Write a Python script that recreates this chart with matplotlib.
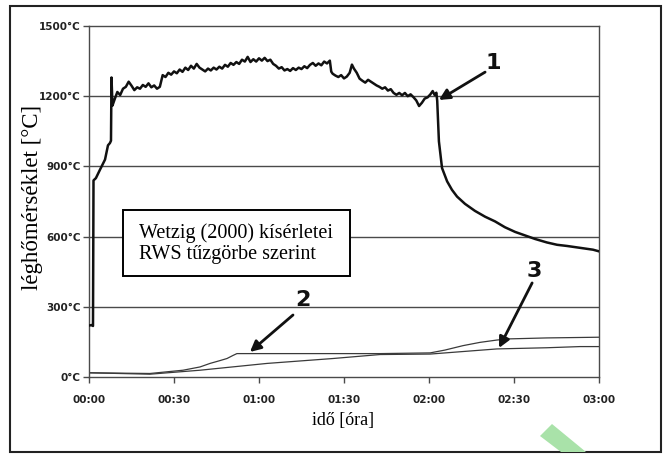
import matplotlib
matplotlib.use("Agg")
import matplotlib.pyplot as plt
from matplotlib.patches import Polygon, Rectangle

# ---------------- data ----------------
# curve 1: gas temperature (minutes, °C)
t1 = [0, 1.06, 1.41, 1.59, 2.44, 3.88, 5.65, 6.7, 7.4, 7.76, 7.94, 8.29,
      9, 10, 11, 12, 13, 14, 15, 16, 17, 18, 19, 20, 21, 22, 23, 24, 25,
      26, 27, 28, 29, 30, 31, 32, 33, 34, 35, 36, 37, 38, 39, 40, 41, 42,
      43, 44, 45, 46, 47, 48, 49, 50, 51, 52, 53, 54, 55, 56, 57, 58, 59,
      60, 61, 62, 63, 64, 65, 66, 67, 68, 69, 70, 71, 72, 73, 74, 75, 76,
      77, 78, 79, 80, 81, 82, 83, 84, 85, 85.5, 86, 87, 88, 89, 90, 91, 92,
      92.8, 93.5, 94.5, 95.5, 96.5, 97.5, 98.5, 99.5, 100.5, 101.5, 102.5,
      103.5, 104.5, 105.5, 106.5, 107.5, 108.5, 109.5, 110.5, 111.5, 112.5,
      113.5, 114.5, 115.5, 116.5, 117.5, 118.5, 119.5, 120.5, 121.3, 122.0,
      122.6, 122.9, 123.5, 124.6, 126.4, 128.1, 129.9, 132.7, 136.2, 139.8,
      143.3, 146.8, 150.4, 153.9, 157.4, 161.6, 165.2, 168.7, 173.3, 177.9, 180]
T1 = [220, 222, 218, 840, 850, 886, 929, 990, 1000, 1010, 1280, 1160,
      1185, 1218, 1205, 1232, 1240, 1262, 1245, 1226, 1238, 1232, 1248, 1240,
      1255, 1238, 1246, 1232, 1240,
      1290, 1282, 1300, 1292, 1306, 1298, 1314, 1304, 1322, 1312, 1330, 1318,
      1338, 1322, 1314, 1306, 1318,
      1310, 1322, 1314, 1326, 1318, 1334, 1326, 1342, 1334, 1346, 1338, 1356,
      1348, 1368, 1346, 1358, 1348,
      1362, 1352, 1364, 1350, 1356, 1338, 1330, 1318, 1324, 1310, 1316, 1308,
      1320, 1312, 1322, 1316, 1328,
      1320, 1334, 1342, 1330, 1340, 1332, 1348, 1340, 1352, 1305, 1296, 1288,
      1282, 1290, 1276, 1284, 1300,
      1335, 1318, 1300, 1275, 1266, 1258, 1270, 1262, 1254, 1246, 1240,
      1232, 1238, 1224, 1230, 1214, 1206, 1214, 1204, 1214, 1200,
      1208, 1196, 1182, 1158, 1172, 1190, 1195, 1208, 1222, 1205,
      1215, 1180, 1007, 893, 836, 800, 771, 740, 710, 685,
      665, 640, 620, 605, 590, 575, 565, 560, 552, 544, 537]

# curve 2
t2 = [0, 21.5, 33.2, 39.2, 42.7, 46.2, 48.7, 50.8, 52.2, 74.5, 102.7, 120.4,
      125.6, 132.0, 138.0, 144.0, 148.6, 161.6, 180]
T2 = [18, 15, 29, 43, 58, 70, 79, 92, 100, 100, 100, 103,
      115, 134, 148, 158, 163, 167, 170]

# curve 3
t3 = [0, 21.5, 39.2, 62.8, 86.1, 102.7, 120.4, 144.0, 161.6, 173.3, 180]
T3 = [18, 12, 29, 58, 79, 96, 98, 120, 125, 130, 130]

x_ticks = [0, 30, 60, 90, 120, 150, 180]
x_labels = ["00:00", "00:30", "01:00", "01:30", "02:00", "02:30", "03:00"]
y_ticks = [0, 300, 600, 900, 1200, 1500]
y_labels = ["0°C", "300°C", "600°C", "900°C", "1200°C", "1500°C"]

# annotation targets (minutes, °C)
ann = [("1", (123.5, 1184), (139.8, 1303), (142.6, 1342)),
       ("2", (56.8, 107), (72.0, 265), (75.5, 329)),
       ("3", (144.7, 124), (156.4, 402), (157.1, 453))]

# ---------------- figure ----------------
W, H = 667, 459
fig = plt.figure(figsize=(W / 100, H / 100), dpi=100)
fig.patch.set_facecolor("white")

ax = fig.add_axes([89 / W, 1 - 377 / H, 510 / W, 351 / H])
ax.set_xlim(0, 180)
ax.set_ylim(0, 1500)

grid_c = "#4a4a4a"
for y in y_ticks[1:-1]:
    ax.axhline(y, color=grid_c, lw=1.0, zorder=1)
for s in ax.spines.values():
    s.set_color(grid_c)
    s.set_linewidth(1.0)

ax.plot(t3, T3, color="#3a3a3a", lw=0.9, zorder=2)
ax.plot(t2, T2, color="#3a3a3a", lw=0.9, zorder=2)
ax.plot(t1, T1, color="#111111", lw=1.8, zorder=3)

tick_font = dict(family=["Liberation Sans Narrow", "DejaVu Sans"], weight="bold", size=7.5)
ax.set_xticks(x_ticks)
ax.set_xticklabels(x_labels, **tick_font)
ax.set_yticks(y_ticks)
ax.set_yticklabels(y_labels, **tick_font)
ax.tick_params(axis="both", direction="out", length=4, width=1.0, color=grid_c,
               labelcolor="#222222")
ax.tick_params(axis="x", pad=9)
ax.tick_params(axis="y", pad=2)

serif = ["Liberation Serif", "DejaVu Serif"]
fig.text(33 / W, 1 - 197 / H, "léghőmérséklet [°C]", rotation=90, ha="center",
         va="center", family=serif, fontsize=16.5)
fig.text(343 / W, 1 - 421 / H, "idő [óra]", ha="center", va="center",
         family=serif, fontsize=13)

# text box
ax.add_patch(Rectangle((0.0667, 0.288), 0.445, 0.188, transform=ax.transAxes,
                       fc="white", ec="black", lw=1.4, zorder=5))
ax.text(0.098, 0.380, "Wetzig (2000) kísérletei\nRWS tűzgörbe szerint",
        transform=ax.transAxes, family=serif, fontsize=14.5, ha="left", va="center",
        zorder=6, linespacing=1.2)

for lab, head, tail, tpos in ann:
    ax.annotate("", xy=head, xytext=tail,
                arrowprops=dict(arrowstyle="-|>", color="#111111", lw=2.0,
                                mutation_scale=16, shrinkA=0, shrinkB=0),
                zorder=6)
    ax.text(tpos[0], tpos[1], lab, ha="center", va="center", fontsize=16,
            weight="heavy", family=["DejaVu Sans"], color="#111111", zorder=6)

# outer frame
fig.patches.append(Rectangle((10 / W, 1 - 452 / H), 651 / W, 446 / H,
                             transform=fig.transFigure, fill=False,
                             ec="#222222", lw=1.5, zorder=0))
# green mark
pts = [(540, 436), (552, 424), (586, 452), (561, 452)]
fig.patches.append(Polygon([(x / W, 1 - y / H) for x, y in pts], closed=True,
                           transform=fig.transFigure, fc="#a9e2a9", ec="none",
                           zorder=1))

fig.savefig("out.png", dpi=100)
